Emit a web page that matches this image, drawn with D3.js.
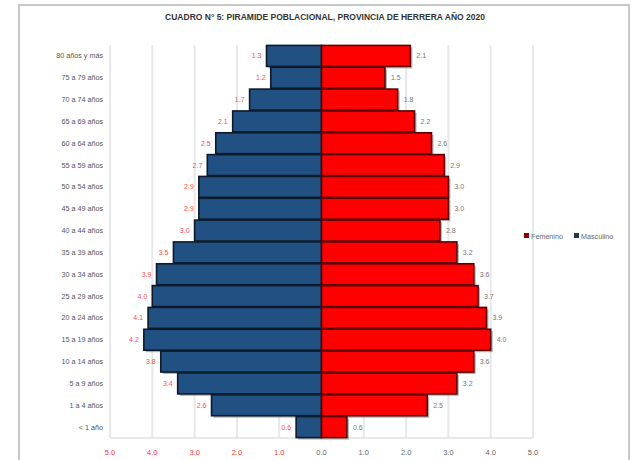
<!DOCTYPE html>
<html><head><meta charset="utf-8">
<script src="https://cdn.jsdelivr.net/npm/d3@7"></script>
<style>body{margin:0;background:#fff}svg{display:block;font-family:Arial,"Liberation Sans",sans-serif}</style>
</head><body><svg id="c" width="631" height="460"></svg>
<script>
const title = "CUADRO N° 5: PIRAMIDE POBLACIONAL, PROVINCIA DE HERRERA AÑO 2020";
const categories = ["80 años y más","75 a 79 años","70 a 74 años","65 a 69 años","60 a 64 años","55 a 59 años","50 a 54 años","45 a 49 años","40 a 44 años","35 a 39 años","30 a 34 años","25 a 29 años","20 a 24 años","15 a 19 años","10 a 14 años","5 a 9 años","1 a 4 años","< 1 año"];
const masculino = [1.3,1.2,1.7,2.1,2.5,2.7,2.9,2.9,3.0,3.5,3.9,4.0,4.1,4.2,3.8,3.4,2.6,0.6];
const femenino  = [2.1,1.5,1.8,2.2,2.6,2.9,3.0,3.0,2.8,3.2,3.6,3.7,3.9,4.0,3.6,3.2,2.5,0.6];
const ticks = [-5,-4,-3,-2,-1,0,1,2,3,4,5];
const seriesNames = ["Femenino","Masculino"];

const svg = d3.select("#c");
// outer border
svg.append("rect").attr("x",19).attr("y",5).attr("width",610).attr("height",470)
  .attr("fill","none").attr("stroke","#c8c8c8").attr("stroke-width",2);

svg.append("text").attr("x",325).attr("y",20).attr("text-anchor","middle")
  .attr("font-size",8.5).attr("font-weight","bold").attr("fill","#333").text(title);

const L=110,R=533,T=45,B=438;
const x = d3.scaleLinear().domain([-5,5]).range([L,R]);
const y = d3.scaleBand().domain(categories).range([T,B]).paddingInner(0.04).paddingOuter(0.02);

// gridlines
svg.append("g").selectAll("line").data(ticks).join("line")
  .attr("x1",d=>x(d)).attr("x2",d=>x(d)).attr("y1",T).attr("y2",B)
  .attr("stroke","#e8e8e8").attr("stroke-width",2);
svg.append("line").attr("x1",L).attr("x2",R).attr("y1",B).attr("y2",B).attr("stroke","#e8e8e8").attr("stroke-width",2);

// x axis labels
svg.append("g").selectAll("text").data(ticks).join("text")
  .attr("x",d=>x(d)).attr("y",455).attr("text-anchor","middle").attr("font-size",7.5)
  .attr("fill",d=>d<0?"#ff3333":"#666").text(d=>Math.abs(d).toFixed(1));

// category labels
svg.append("g").selectAll("text").data(categories).join("text")
  .attr("x",103).attr("y",d=>y(d)+y.bandwidth()/2+2.5).attr("text-anchor","end")
  .attr("font-size",7.2).attr("fill","#555").text(d=>d);

const bh = y.bandwidth();
// shadows
const sh = svg.append("g").attr("fill","#777").attr("opacity",0.55);
sh.selectAll("rect.m").data(masculino).join("rect").attr("class","m")
  .attr("x",(d)=>x(-d)+2).attr("y",(d,i)=>y(categories[i])+2)
  .attr("width",d=>x(0)-x(-d)).attr("height",bh);
sh.selectAll("rect.f").data(femenino).join("rect").attr("class","f")
  .attr("x",x(0)+2).attr("y",(d,i)=>y(categories[i])+2)
  .attr("width",d=>x(d)-x(0)).attr("height",bh);

// bars
svg.append("g").selectAll("rect").data(masculino).join("rect")
  .attr("x",d=>x(-d)).attr("y",(d,i)=>y(categories[i]))
  .attr("width",d=>x(0)-x(-d)).attr("height",bh)
  .attr("fill","#215083").attr("stroke","#0d1a2a").attr("stroke-width",1.6);
svg.append("g").selectAll("rect").data(femenino).join("rect")
  .attr("x",x(0)).attr("y",(d,i)=>y(categories[i]))
  .attr("width",d=>x(d)-x(0)).attr("height",bh)
  .attr("fill","#ff0000").attr("stroke","#5a0000").attr("stroke-width",1.6);

// value labels
svg.append("g").selectAll("text").data(masculino).join("text")
  .attr("x",d=>x(-d)-5).attr("y",(d,i)=>y(categories[i])+bh/2+2.5)
  .attr("text-anchor","end").attr("font-size",7).attr("fill","#ff4d4d").text(d=>d.toFixed(1));
svg.append("g").selectAll("text").data(femenino).join("text")
  .attr("x",d=>x(d)+6).attr("y",(d,i)=>y(categories[i])+bh/2+2.5)
  .attr("text-anchor","start").attr("font-size",7).attr("fill","#777").text(d=>d.toFixed(1));

// legend
const colors = ["#8b0000","#1f3550"];
const lg = svg.append("g");
const lx = [524,574];
seriesNames.forEach((n,i)=>{
  lg.append("rect").attr("x",lx[i]).attr("y",233).attr("width",5).attr("height",5).attr("fill",colors[i]);
  lg.append("text").attr("x",lx[i]+7).attr("y",238.5).attr("font-size",7.2).attr("fill","#666").text(n);
});
</script></body></html>
